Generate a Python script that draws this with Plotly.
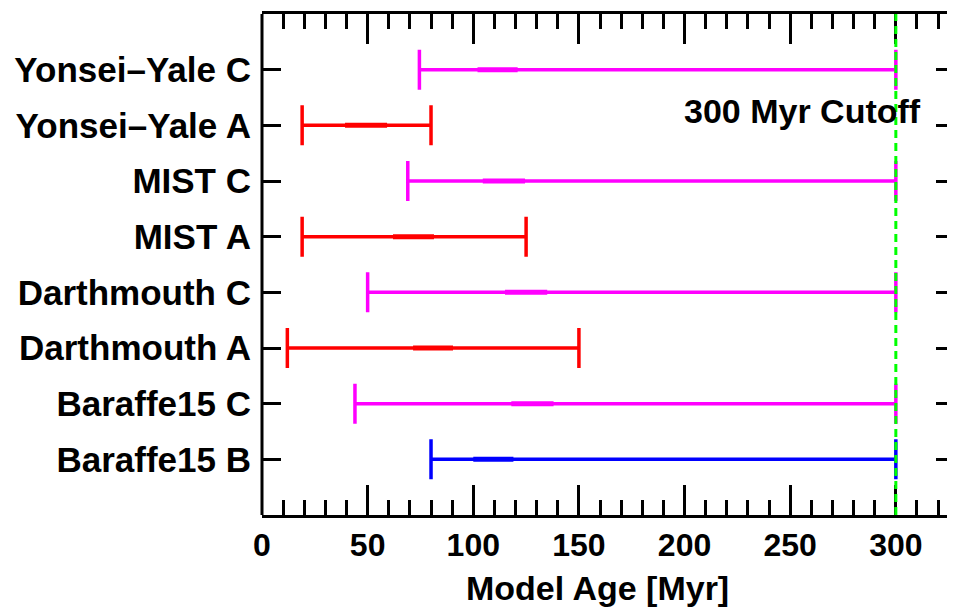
import plotly.graph_objects as go

# Data
models = ["Baraffe15 B", "Baraffe15 C", "Darthmouth A", "Darthmouth C",
          "MIST A", "MIST C", "Yonsei\u2013Yale A", "Yonsei\u2013Yale C"]
age_min = [80, 44, 12, 50, 19, 69, 19, 74.5]
age_max = [300, 300, 150, 300, 125, 300, 80, 300]
best_lo = [100, 118, 71.5, 115, 62, 104.5, 39.3, 102]
best_hi = [119, 138, 90.4, 135, 81.4, 124.5, 59.2, 121]
colors = ["#0000FF", "#FF00FF", "#FF0000", "#FF00FF",
          "#FF0000", "#FF00FF", "#FF0000", "#FF00FF"]
cutoff = 300
x_ticks = [0, 50, 100, 150, 200, 250, 300]

FONT = "Liberation Sans, Arial, Helvetica, sans-serif"

fig = go.Figure()

for i, m in enumerate(models):
    lo, hi = age_min[i], age_max[i]
    fig.add_trace(go.Scatter(
        x=[(lo + hi) / 2], y=[i], mode="markers",
        marker=dict(size=1, opacity=0),
        error_x=dict(type="data", symmetric=True, array=[(hi - lo) / 2],
                     color=colors[i], thickness=3.5, width=20),
        showlegend=False, hoverinfo="skip"))
    fig.add_trace(go.Scatter(
        x=[best_lo[i], best_hi[i]], y=[i, i], mode="lines",
        line=dict(color=colors[i], width=5),
        showlegend=False, hoverinfo="skip"))

# left axis line (right side only carries ticks, its line is off-canvas)
fig.add_shape(type="line", xref="paper", yref="paper", x0=0, x1=0, y0=0, y1=1,
              line=dict(color="black", width=3))

fig.add_vline(x=cutoff, line=dict(color="#00FF00", width=3, dash="8px,5px"),
              layer="above")

fig.add_annotation(x=256, y=6.25, xref="x", yref="y", text="300 Myr Cutoff",
                   showarrow=False, xanchor="center", yanchor="middle",
                   font=dict(family=FONT, size=34, color="black", weight="bold"))

# x-axis title (slightly left of the plot centre, as in the reference)
fig.add_annotation(x=159, y=-0.145, xref="x", yref="paper", text="Model Age [Myr]",
                   showarrow=False, xanchor="center", yanchor="middle",
                   font=dict(family=FONT, size=34, color="black", weight="bold"))

fig.update_xaxes(
    range=[0, 328], tickvals=x_ticks, ticktext=[str(v) for v in x_ticks],
    ticks="inside", ticklen=30, tickwidth=3, tickcolor="black",
    minor=dict(dtick=10, ticks="inside", ticklen=15, tickwidth=3, tickcolor="black"),
    showline=True, linewidth=3, linecolor="black", mirror="ticks",
    showgrid=False, zeroline=False,
    tickfont=dict(family=FONT, size=32, color="black", weight="bold"))

fig.update_yaxes(
    range=[-1, 8], tickvals=list(range(len(models))), ticktext=models,
    ticks="inside", ticklen=19, tickwidth=3, tickcolor="black",
    ticklabelstandoff=10,
    showline=False, mirror="ticks",
    showgrid=False, zeroline=False,
    tickfont=dict(family=FONT, size=35, color="black", weight="bold"))

fig.update_layout(
    width=947, height=600,
    margin=dict(l=254, r=0, t=6, b=93, autoexpand=False),
    plot_bgcolor="white", paper_bgcolor="white",
    showlegend=False)

fig.write_html("out.html")
